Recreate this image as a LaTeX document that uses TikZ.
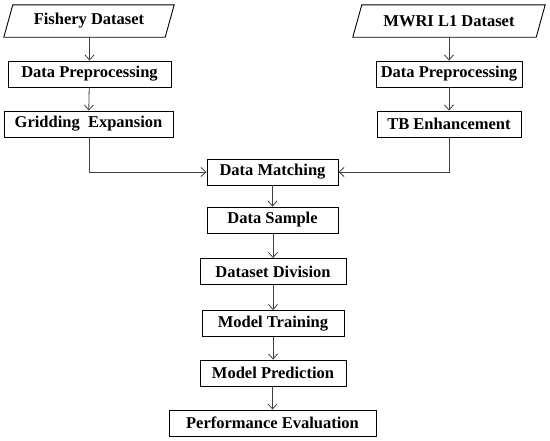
\documentclass[tikz,border=0pt]{standalone}
\usepackage{fontspec}
\setmainfont{Liberation Serif}
\usetikzlibrary{arrows.meta}
\begin{document}
\begin{tikzpicture}[x=1pt,y=-1pt,
  box/.style={draw=black,line width=0.9pt,minimum height=26pt,inner sep=0pt,font=\bfseries\fontsize{16.5}{18}\selectfont},
  para/.style={minimum height=32pt,inner sep=0pt,font=\bfseries\fontsize{16.5}{18}\selectfont},
  conn/.style={draw=black!75,line width=0.8pt,-{Straight Barb[length=5pt,width=9pt]}},
  pline/.style={draw=black,line width=0.9pt}]
\useasboundingbox (0,0) rectangle (550,440);
\node[para,minimum width=161pt] (fd) at (89,21) {Fishery Dataset};
\draw[pline] ([xshift=4.5pt]fd.north west) -- ([xshift=4.5pt]fd.north east) -- ([xshift=-4.5pt]fd.south east) -- ([xshift=-4.5pt]fd.south west) -- cycle;
\node[para,minimum width=183pt] (md) at (449,21) {MWRI L1 Dataset};
\draw[pline] ([xshift=4.5pt]md.north west) -- ([xshift=4.5pt]md.north east) -- ([xshift=-4.5pt]md.south east) -- ([xshift=-4.5pt]md.south west) -- cycle;
\node[box,minimum width=163pt] (ldp) at (89.5,74) {Data Preprocessing};
\node[box,minimum width=169pt] (ge) at (88.5,124) {Gridding\ \ Expansion};
\node[box,minimum width=146pt] (rdp) at (449,74) {Data Preprocessing};
\node[box,minimum width=144pt] (tb) at (449,124) {TB Enhancement};
\node[box,minimum width=131pt] (dm) at (272.5,172) {Data Matching};
\node[box,minimum width=131pt] (ds) at (272.5,220) {Data Sample};
\node[box,minimum width=146pt] (dd) at (273,271.5) {Dataset Division};
\node[box,minimum width=142pt] (mt) at (273,323.5) {Model Training};
\node[box,minimum width=146pt] (mp) at (273,373) {Model Prediction};
\node[box,minimum width=207pt] (pe) at (272.5,423) {Performance Evaluation};
\draw[conn] (fd.south -| ldp.north) -- (ldp.north);
\draw[conn] (ldp) -- (ge);
\draw[conn] (md.south -| rdp.north) -- (rdp.north);
\draw[conn] (rdp) -- (tb);
\draw[conn] (ge.south -| 89,0) |- (dm.west);
\draw[conn] (tb.south) |- (dm.east);
\draw[conn] (dm.south -| ds.north) -- (ds.north);
\draw[conn] (ds.south -| dd.north) -- (dd.north);
\draw[conn] (dd.south -| mt.north) -- (mt.north);
\draw[conn] (mt.south -| mp.north) -- (mp.north);
\draw[conn] (mp.south -| pe.north) -- (pe.north);
\end{tikzpicture}
\end{document}
